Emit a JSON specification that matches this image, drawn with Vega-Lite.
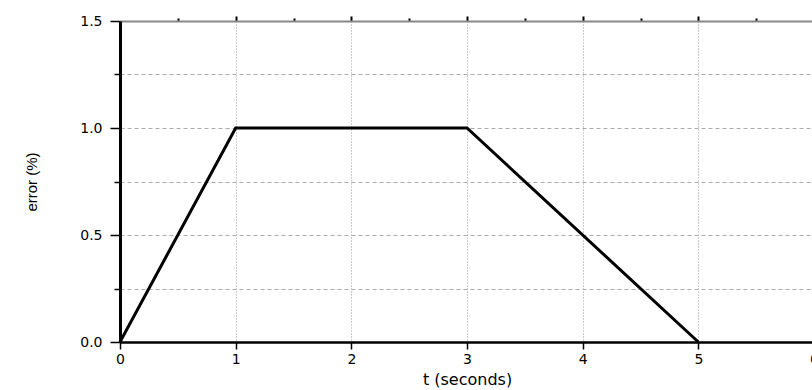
{
  "$schema": "https://vega.github.io/schema/vega-lite/v6.json",
  "width": 694,
  "height": 321,
  "autosize": {"type": "none"},
  "padding": {"left": 120, "top": 21, "right": 0, "bottom": 48},
  "background": "white",
  "config": {"view": {"stroke": null}},
  "data": {"values": [
    {"t": 0, "error": 0},
    {"t": 1, "error": 1},
    {"t": 3, "error": 1},
    {"t": 5, "error": 0}
  ]},
  "layer": [
    {
      "mark": {"type": "line", "color": "black", "strokeWidth": 3, "clip": false},
      "encoding": {
        "x": {
          "field": "t", "type": "quantitative",
          "scale": {"domain": [0, 6], "nice": false, "zero": false},
          "axis": {
            "orient": "bottom",
            "title": "t (seconds)",
            "titleFont": "DejaVu Sans", "titleFontSize": 16, "titleFontWeight": "normal", "titleColor": "black",
            "titlePadding": 5,
            "values": [0, 0.5, 1, 1.5, 2, 2.5, 3, 3.5, 4, 4.5, 5, 5.5, 6],
            "labelExpr": "datum.value % 1 == 0 ? datum.label : ''",
            "format": "d",
            "labelFont": "DejaVu Sans", "labelFontSize": 14, "labelColor": "black",
            "labelPadding": 3, "labelFlush": false, "labelOverlap": false,
            "domainColor": "black", "domainWidth": 2.5,
            "tickColor": "black", "tickWidth": 1.5,
            "tickSize": {"condition": {"test": "datum.value % 1 == 0", "value": 7}, "value": 4},
            "grid": true, "gridColor": "#999999", "gridDash": [1, 2], "gridWidth": 1
          }
        },
        "y": {
          "field": "error", "type": "quantitative",
          "scale": {"domain": [0, 1.5], "nice": false, "zero": false},
          "axis": {
            "title": "error (%)",
            "titleFont": "Liberation Sans", "titleFontSize": 15, "titleFontWeight": "normal", "titleColor": "black",
            "titlePadding": 40,
            "values": [0, 0.25, 0.5, 0.75, 1, 1.25, 1.5],
            "labelExpr": "(datum.value * 2) % 1 == 0 ? format(datum.value, '.1f') : ''",
            "labelFont": "DejaVu Sans", "labelFontSize": 14, "labelColor": "black",
            "labelPadding": 8, "labelFlush": false, "labelOverlap": false,
            "domainColor": "black", "domainWidth": 3,
            "tickColor": "black", "tickWidth": 1.5,
            "tickSize": {"condition": {"test": "(datum.value * 2) % 1 == 0", "value": 10}, "value": 6},
            "grid": true, "gridColor": "#aaaaaa", "gridDash": [4, 3], "gridWidth": 1
          }
        }
      }
    },
    {
      "mark": {"type": "point", "opacity": 0},
      "encoding": {
        "x": {
          "field": "t", "type": "quantitative",
          "axis": {
            "orient": "top",
            "title": null,
            "values": [0.5, 1, 1.5, 2, 2.5, 3, 3.5, 4, 4.5, 5, 5.5, 6],
            "labels": false,
            "domainColor": "#888888", "domainWidth": 2,
            "tickColor": "black", "tickWidth": 2,
            "tickSize": {"condition": {"test": "datum.value % 1 == 0", "value": 5}, "value": 3},
            "grid": false
          }
        },
        "y": {"field": "error", "type": "quantitative"}
      }
    }
  ],
  "resolve": {"axis": {"x": "independent"}}
}
